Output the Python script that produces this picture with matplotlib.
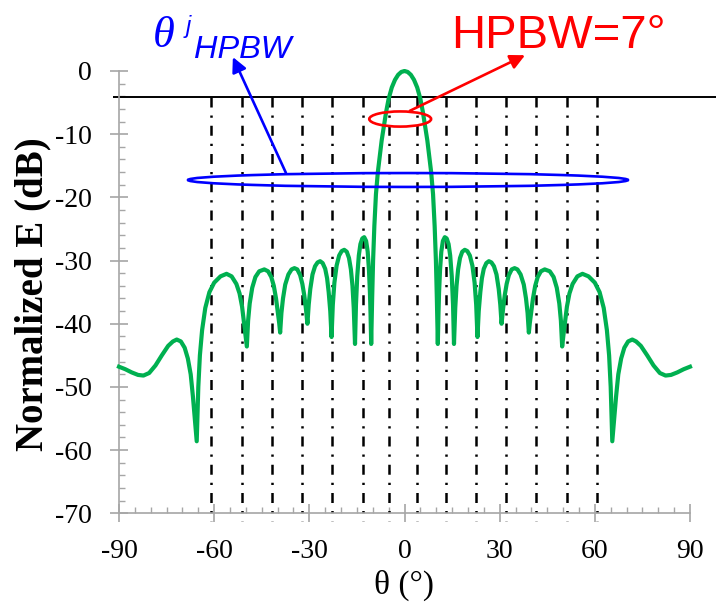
import matplotlib
matplotlib.use("Agg")
import matplotlib.pyplot as plt
from matplotlib.patches import Ellipse
from matplotlib.ticker import MultipleLocator

plt.rcParams['axes.unicode_minus'] = False

# ---- data ----
theta = [
    -90, -88, -86, -84, -82.3, -80.5, -78.5, -76.5, -74.5, -73.0, -71.8, -70.5, -69.3,
    -68.3, -67.4, -66.7, -66.1, -65.5,
    -65.0, -64.5, -63.8, -62.8, -61.5, -60.0, -58.0, -56.1, -54.5, -53.0, -52.0, -51.2,
    -50.6, -50.1, -49.7,
    -49.3, -48.8, -48.0, -47.0, -45.8, -44.2, -43.0, -42.0, -41.2, -40.5, -39.9, -39.5, -39.2,
    -38.8, -38.3, -37.6, -36.6, -35.6, -34.7, -33.8, -32.9, -32.2, -31.6, -31.1, -30.6,
    -30.2, -29.7, -29.0, -28.2, -27.4, -26.6, -25.8, -25.0, -24.4, -23.9, -23.4, -23.0,
    -22.6, -22.1, -21.4, -20.6, -19.8, -19.0, -18.2, -17.5, -16.9, -16.4, -16.0, -15.6,
    -15.3, -14.9, -14.4, -13.9, -13.3, -12.7, -12.1, -11.6, -11.2, -10.9, -10.7, -10.5,
    -10.2, -9.9, -9.5, -9.0, -8.4, -7.8, -7.2, -6.5, -5.8, -5.0, -4.0, -3.0, -2.0, -1.0, 0,
    1.0, 2.0, 3.0, 4.0, 5.0, 5.8, 6.5, 7.2, 7.8, 8.4, 9.0, 9.5, 9.9, 10.2, 10.5,
    10.7, 10.9, 11.2, 11.6, 12.1, 12.7, 13.3, 13.9, 14.4, 14.9, 15.3, 15.6,
    16.0, 16.4, 16.9, 17.5, 18.2, 19.0, 19.8, 20.6, 21.4, 22.1, 22.6, 23.0,
    23.4, 23.9, 24.4, 25.0, 25.8, 26.6, 27.4, 28.2, 29.0, 29.7, 30.2, 30.6,
    31.1, 31.6, 32.2, 32.9, 33.8, 34.7, 35.6, 36.6, 37.6, 38.3, 38.8, 39.2,
    39.5, 39.9, 40.5, 41.2, 42.0, 43.0, 44.2, 45.8, 47.0, 48.0, 48.8, 49.3, 49.7,
    50.1, 50.6, 51.2, 52.0, 53.0, 54.5, 56.1, 58.0, 60.0, 61.5, 62.8, 63.8, 64.5, 65.0, 65.5,
    66.1, 66.7, 67.4, 68.3, 69.3, 70.5, 71.8, 73.0, 74.5, 76.5, 78.5, 80.5, 82.3, 84, 86, 88, 90]
gain_db = [
    -46.8, -47.2, -47.7, -48.1, -48.2, -47.8, -46.6, -45.0, -43.5, -42.8, -42.5, -42.8, -43.8,
    -45.5, -48.0, -51.5, -55.0, -58.6,
    -50.0, -45.0, -41.0, -37.5, -35.0, -33.5, -32.5, -32.1, -32.5, -33.7, -35.2, -37.3,
    -39.8, -41.8, -43.6,
    -39.5, -36.8, -34.3, -32.6, -31.7, -31.4, -31.7, -32.6, -34.0, -36.0, -38.3, -39.9, -41.4,
    -38.3, -36.0, -33.8, -32.2, -31.4, -31.2, -31.4, -32.3, -33.7, -35.5, -37.5, -40.0,
    -37.0, -34.5, -32.2, -30.9, -30.3, -30.1, -30.4, -31.3, -32.8, -35.0, -38.0, -42.1,
    -37.0, -33.5, -30.8, -29.2, -28.5, -28.3, -28.6, -29.6, -31.4, -34.0, -37.5, -43.2,
    -37.0, -32.5, -29.2, -27.4, -26.5, -26.3, -26.9, -28.6, -31.5, -35.0, -38.5, -43.2,
    -36.0, -30.0, -24.5, -19.5, -16.0, -13.5, -11.0, -8.7, -6.5, -4.4, -2.6, -1.4, -0.6, -0.15, 0.0,
    -0.15, -0.6, -1.4, -2.6, -4.4, -6.5, -8.7, -11.0, -13.5, -16.0, -19.5, -24.5, -30.0, -36.0, -43.2,
    -38.5, -35.0, -31.5, -28.6, -26.9, -26.3, -26.5, -27.4, -29.2, -32.5, -37.0, -43.2,
    -37.5, -34.0, -31.4, -29.6, -28.6, -28.3, -28.5, -29.2, -30.8, -33.5, -37.0, -42.1,
    -38.0, -35.0, -32.8, -31.3, -30.4, -30.1, -30.3, -30.9, -32.2, -34.5, -37.0, -40.0,
    -37.5, -35.5, -33.7, -32.3, -31.4, -31.2, -31.4, -32.2, -33.8, -36.0, -38.3, -41.4,
    -39.9, -38.3, -36.0, -34.0, -32.6, -31.7, -31.4, -31.7, -32.6, -34.3, -36.8, -39.5, -43.6,
    -41.8, -39.8, -37.3, -35.2, -33.7, -32.5, -32.1, -32.5, -33.5, -35.0, -37.5, -41.0, -45.0, -50.0, -58.6,
    -55.0, -51.5, -48.0, -45.5, -43.8, -42.8, -42.5, -42.8, -43.5, -45.0, -46.6, -47.8, -48.2, -48.1, -47.7, -47.2, -46.8]

beam_angles = [-61.0, -51.3, -41.8, -32.2, -22.8, -13.2, -5.0,
               3.85, 13.1, 22.5, 32.0, 41.5, 51.1, 60.6]
ref_level_db = -4.1

x_ticks = [-90, -60, -30, 0, 30, 60, 90]
y_ticks = [0, -10, -20, -30, -40, -50, -60, -70]

fig = plt.figure(figsize=(7.16, 6.06), dpi=100)
ax = fig.add_axes([119/716, 1 - 513.3/606, (690-119)/716, (513.3-71)/606])

serif = 'Liberation Serif'
sans = 'Liberation Sans'

ax.set_xlim(-90, 90)
ax.set_ylim(-70, 0)

# reference horizontal line
ax.plot([-91.9, 98.5], [ref_level_db, ref_level_db], color='black', lw=1.4,
        clip_on=False, zorder=2, solid_capstyle='butt')

# dash-dot vertical lines
for a in beam_angles:
    ax.plot([a, a], [ref_level_db, -71.2], color='black', lw=1.8,
            linestyle=(0, (4.0, 3.2, 0.9, 3.2)), clip_on=False, zorder=2)

# pattern
ax.plot(theta, gain_db, color='#00B050', lw=3.0, clip_on=False, zorder=3,
        solid_joinstyle='round')

# ellipses
ax.add_patch(Ellipse((1.1, -17.25), 138.7, 2.2, fill=False, edgecolor='#0000FF',
                     lw=1.9, zorder=4, clip_on=False))
ax.add_patch(Ellipse((-1.36, -7.6), 19.5, 2.4, fill=False, edgecolor='#FF0000',
                     lw=1.9, zorder=4, clip_on=False))

# arrows
ax.annotate('', xy=(38.0, 2.5), xytext=(1.7, -6.3), xycoords='data',
            arrowprops=dict(arrowstyle='-|>', color='#FF0000', lw=1.9,
                            mutation_scale=22, shrinkA=0, shrinkB=0),
            annotation_clip=False, zorder=5)
ax.annotate('', xy=(-54.1, 2.2), xytext=(-37.4, -16.1), xycoords='data',
            arrowprops=dict(arrowstyle='-|>', color='#0000FF', lw=1.9,
                            mutation_scale=22, shrinkA=0, shrinkB=0),
            annotation_clip=False, zorder=5)

# spines and ticks
for s in ['top', 'right']:
    ax.spines[s].set_visible(False)
for s in ['left', 'bottom']:
    ax.spines[s].set_color('#A6A6A6')
    ax.spines[s].set_linewidth(1.2)

ax.set_xticks(x_ticks)
ax.set_yticks(y_ticks)
ax.xaxis.set_minor_locator(MultipleLocator(5))
ax.yaxis.set_minor_locator(MultipleLocator(2))
ax.tick_params(which='major', direction='inout', length=13, width=1.2,
               color='#A6A6A6', labelsize=20, pad=12)
ax.tick_params(which='minor', direction='in', length=4.5, width=1.0,
               color='#A6A6A6')
ax.tick_params(axis='y', which='major', pad=13)
for lab in ax.get_xticklabels() + ax.get_yticklabels():
    lab.set_fontfamily(serif)

ax.set_xlabel('θ (°)', fontfamily=serif, fontsize=24)
ax.xaxis.set_label_coords(0.5, -0.128)
ax.set_ylabel('Normalized E (dB)', fontfamily=serif, fontsize=28,
              fontweight='bold')
ax.yaxis.set_label_coords((51 - 119) / 571, 0.495)

# annotation texts
fig.text(451/716, 1 - 48.3/606, 'HPBW=7°', color='#FF0000', fontsize=34,
         fontfamily=sans, va='baseline', ha='left')
fig.text(153/716, 1 - 46.7/606, 'θ', color='#0000FF', fontsize=32,
         fontfamily=serif, style='italic', va='baseline', ha='left')
fig.text(186/716, 1 - 33/606, 'j', color='#0000FF', fontsize=17,
         fontfamily=sans, style='italic', va='baseline', ha='left')
fig.text(194/716, 1 - 58.3/606, 'HPBW', color='#0000FF', fontsize=23.4,
         fontfamily=sans, style='italic', va='baseline', ha='left')

fig.savefig('out.png', dpi=100)
